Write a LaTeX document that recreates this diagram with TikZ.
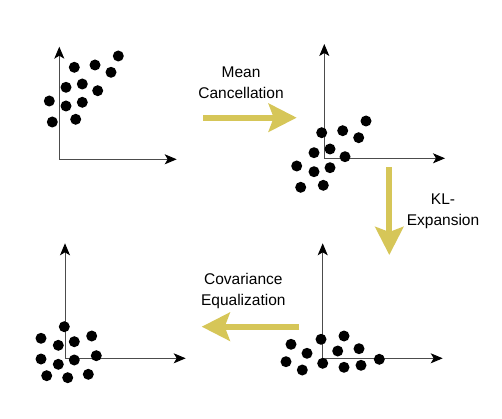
\documentclass[tikz,border=0pt]{standalone}
\usepackage{fontspec}
\setmainfont{Liberation Sans}
\usepackage{tikz}
\usetikzlibrary{arrows.meta,positioning}
\definecolor{gelb}{RGB}{214,198,88}
\tikzset{
  achse/.style={draw=black!70,line width=0.9pt,-{Stealth[length=12pt,width=10pt,inset=3pt,color=black]}},
  punkt/.style={fill=black},
  pfeil/.style={draw=gelb,line width=6pt,-{Stealth[length=28pt,width=28pt,inset=5pt]}},
  schrift/.style={align=center,font=\fontsize{15.5}{21}\selectfont}
}

\begin{document}
\begin{tikzpicture}[x=1pt,y=-1pt]
%Koordinaten in Pixeln des Bildes (y nach unten)
\useasboundingbox (0,0) rectangle (502,419);
  \pgfmathsetmacro{\r}{5.5}
%Achsen: Ursprung / Spitze y / Spitze x
\foreach \ox/\oy/\ty/\tx [count=\i] in {59.3/159.3/46.7/176.7, 324.3/158.3/44/445, 65/358.3/243.3/185.7, 322.7/358.3/243.3/442.7}{
  \coordinate (o\i) at (\ox,\oy);
  \coordinate (y\i) at (\ox,\ty);
  \coordinate (x\i) at (\tx,\oy);
  \draw[achse] (o\i) -- (y\i);
  \draw[achse] (o\i) -- (x\i);
}
%Punktwolken
\foreach \p in {(118.3,56),(74.3,67.3),(95,65),(111,72.3),(66,87.3),(82.3,84),(97.7,90.7),(49.3,101),(66,106),(82.3,102.3),(52.3,122),(75.7,119.3)}
  \fill[punkt] \p circle (\r);
\foreach \p in {(366,121),(342.7,130.7),(321.7,132.7),(358.7,137.7),(330,149),(314,152.7),(345,156.7),(296.7,166),(314,171.7),(330,167.7),(300.7,187.3),(323.3,185.3)}
  \fill[punkt] \p circle (\r);
\foreach \p in {(64.3,326.7),(41,338.3),(74.3,341.7),(91.7,336),(58.3,345.3),(41,359),(58.3,364.3),(74.3,360),(96.3,355.7),(46.7,375.7),(67.7,377.7),(88.3,374.3)}
  \fill[punkt] \p circle (\r);
\foreach \p in {(321,339.3),(344,336),(291,344.3),(337.7,351),(359,348.7),(307,353.3),(286,361.7),(322.7,363.3),(379.3,359.3),(302.3,370),(344,367.3),(361,365.3)}
  \fill[punkt] \p circle (\r);
%Schritte
\coordinate (mc-a) at (203.3,117.7);
\coordinate (mc-b) at (296.7,117.7);
\coordinate (kl-a) at (389.3,167.3);
\coordinate (kl-b) at (389.3,255);
\coordinate (ce-a) at (299.3,326.7);
\coordinate (ce-b) at (201.7,326.7);
\draw[pfeil] (mc-a) -- (mc-b);
\draw[pfeil] (kl-a) -- (kl-b);
\draw[pfeil] (ce-a) -- (ce-b);
\node[schrift] (mean) at (241,82.5) {Mean\\Cancellation};
\node[schrift] (kl) at (443,211.7) {KL-\\Expansion};
\node[schrift] (cov) at (243.3,291.3) {Covariance\\Equalization};
\end{tikzpicture}
\end{document}
